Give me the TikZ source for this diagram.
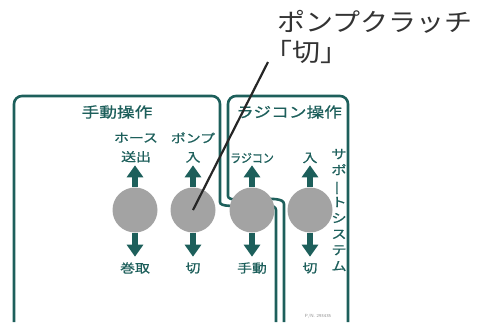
\documentclass[tikz,border=0pt]{standalone}
\usepackage{fontspec}
\usetikzlibrary{arrows.meta,positioning}
\newfontfamily\jpfont{Noto Sans CJK JP}[FakeStretch=1.22, FakeBold=0.8]
\newfontfamily\jpnarrow{Noto Sans CJK JP}[FakeStretch=0.9, FakeBold=0.8]
\newfontfamily\jpcall{Noto Sans CJK JP}[FakeStretch=1.12]
\definecolor{Tc}{HTML}{1D5F5B}
\definecolor{Kc}{HTML}{A3A3A3}
\definecolor{Cc}{HTML}{333333}
\tikzset{
  knob/.style={circle, fill=Kc, inner sep=0pt, minimum size=45pt},
  rim/.style={draw=Tc, line width=2.6pt, rounded corners=8pt},
  lever/.style={draw=Tc, line width=6pt, -{Triangle[length=12pt,width=16pt]}},
  title/.style={text=Tc, font=\jpfont\fontsize{14.5}{16}\selectfont, inner sep=0pt},
  tag/.style={text=Tc, font=\jpfont\fontsize{12.2}{19}\selectfont, align=center, inner sep=0pt},
  lead/.style={draw=black!85, line width=2.2pt},
}

\begin{document}
\begin{tikzpicture}[x=1pt, y=-1pt]
  \useasboundingbox (0,0) rectangle (479,322);
  % panel rims
  \draw[rim] (14,322) -- (14,96) -- (220,96) -- (220,194)
    .. controls (220,212) and (276,198) .. (276,218) -- (276,322);
  \draw[rim] (284,322) -- (284,212)
    .. controls (284,192) and (228,206) .. (228,188) -- (228,96) -- (348,96) -- (348,322);
  % switches
  \node[knob] (hose) at (135,210) {};
  \node[knob] (pump) at (193,210) {};
  \node[knob] (radio) at (252,210) {};
  \node[knob] (assist) at (310,210) {};
  \foreach \k in {hose,pump,radio,assist}{
    \draw[lever] (\k.north) -- ++(0,-22);
    \draw[lever] (\k.south) -- ++(0,24);}
  % labels
  \node[title] (manual) at (117,112) {手動操作};
  \node[title] (radioctl) at (289,112) {ラジコン操作};
  \node[tag] (hoseup) at (136,147.5) {ホース\\送出};
  \node[tag] (pumpup) at (193,147.5) {ポンプ\\入};
  \node[tag, font=\jpnarrow\fontsize{12.2}{19}\selectfont] (radioup) at (252,158) {ラジコン};
  \node[tag] (assistup) at (310,158) {入};
  \node[tag] (hosedn) at (135,268) {巻取};
  \node[tag] (pumpdn) at (193,268) {切};
  \node[tag] (radiodn) at (252,268) {手動};
  \node[tag] (assistdn) at (310,268) {切};
  \node[tag, font=\jpfont\fontsize{12.5}{16}\selectfont] (system) at (339,210)
    {サ\\ポ\\\rotatebox[origin=c]{90}{ー}\\ト\\シ\\ス\\テ\\ム};
  \node[text=black!45, font=\sffamily\fontsize{4.5}{5}\selectfont, inner sep=0pt] (partno) at (318,316) {P/N. 293435};
  % callout
  \node[anchor=north west, text=Cc, font=\jpcall\fontsize{25}{30}\selectfont, align=left, inner sep=0pt] (note) at (277,10)
    {ポンプクラッチ\\\hspace*{-0.5em}「切」};
  \coordinate (leadtop) at (268,62);
  \draw[lead] (leadtop) -- (pump.center);
\end{tikzpicture}
\end{document}
